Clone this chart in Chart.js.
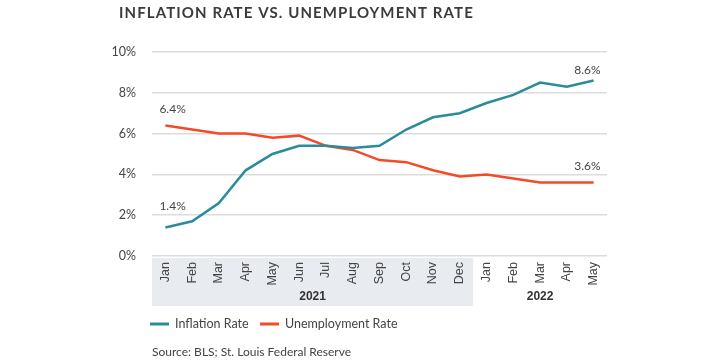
<!DOCTYPE html>
<html>
<head>
<meta charset="utf-8">
<script src="https://cdn.jsdelivr.net/npm/chart.js@4"></script>
<style>
  html, body { margin: 0; padding: 0; background: #fff; }
  #wrap { width: 720px; height: 360px; position: relative; }
</style>
</head>
<body>
<div id="wrap"><canvas id="grafico" width="720" height="360"></canvas></div>
<script>
// dados
const months = ["Jan","Feb","Mar","Apr","May","Jun","Jul","Aug","Sep","Oct","Nov","Dec","Jan","Feb","Mar","Apr","May"];
const years = ["2021", "2022"];
const yearStart = [0, 12]; // índice do primeiro mês de cada ano
const inflation = [1.4, 1.7, 2.6, 4.2, 5.0, 5.4, 5.4, 5.3, 5.4, 6.2, 6.8, 7.0, 7.5, 7.9, 8.5, 8.3, 8.6];
const unemployment = [6.4, 6.2, 6.0, 6.0, 5.8, 5.9, 5.4, 5.2, 4.7, 4.6, 4.2, 3.9, 4.0, 3.8, 3.6, 3.6, 3.6];
const yTicks = [0, 2, 4, 6, 8, 10];

const teal = "#2a8c9a";
const red = "#f24b28";
const textColor = "#444";

// plugin que desenha título, faixa dos anos, rótulos, legenda e fonte
const extras = {
  id: "extras",
  beforeDraw(chart) {
    const ctx = chart.ctx;
    const x = chart.scales.x;
    const area = chart.chartArea;
    const step = x.getPixelForValue(1) - x.getPixelForValue(0);
    // faixa cinza de 2021 (atrás dos rótulos)
    ctx.save();
    ctx.fillStyle = "#e8ebef";
    const left = x.getPixelForValue(yearStart[0]) - step / 2;
    const right = x.getPixelForValue(yearStart[1] - 1) + step / 2;
    ctx.fillRect(left, area.bottom + 2, right - left, 48);
    ctx.restore();
  },
  afterDraw(chart) {
    const ctx = chart.ctx;
    const x = chart.scales.x;
    const y = chart.scales.y;
    const area = chart.chartArea;
    ctx.save();

    // título
    ctx.fillStyle = "#3b3b3b";
    ctx.font = "bold 15px Lato";
    ctx.textBaseline = "alphabetic";
    ctx.textAlign = "left";
    ctx.letterSpacing = "1.1px";
    ctx.fillText("INFLATION RATE VS. UNEMPLOYMENT RATE", 119, 18);
    ctx.letterSpacing = "0px";

    // anos
    ctx.font = "bold 12px 'Liberation Sans'";
    ctx.fillStyle = "#333";
    ctx.textAlign = "center";
    ctx.textBaseline = "middle";
    for (let i = 0; i < years.length; i++) {
      const a = yearStart[i];
      const b = i + 1 < yearStart.length ? yearStart[i + 1] - 1 : months.length - 1;
      const cx = (x.getPixelForValue(a) + x.getPixelForValue(b)) / 2;
      ctx.fillText(years[i], cx, area.bottom + 41);
    }

    // rótulos de valores (primeiro e último ponto)
    ctx.font = "12px Lato";
    ctx.fillStyle = textColor;
    ctx.textBaseline = "alphabetic";
    const n = months.length - 1;
    ctx.textAlign = "left";
    ctx.fillText(inflation[0].toFixed(1) + "%", x.getPixelForValue(0) - 6, y.getPixelForValue(inflation[0]) - 17);
    ctx.fillText(unemployment[0].toFixed(1) + "%", x.getPixelForValue(0) - 6, y.getPixelForValue(unemployment[0]) - 12);
    ctx.textAlign = "right";
    ctx.fillText(inflation[n].toFixed(1) + "%", x.getPixelForValue(n) + 7, y.getPixelForValue(inflation[n]) - 7);
    ctx.fillText(unemployment[n].toFixed(1) + "%", x.getPixelForValue(n) + 7, y.getPixelForValue(unemployment[n]) - 13);

    // legenda
    ctx.textAlign = "left";
    ctx.textBaseline = "middle";
    ctx.font = "12.5px Lato";
    const legendY = 324;
    const items = [
      { label: "Inflation Rate", color: teal, x: 150 },
      { label: "Unemployment Rate", color: red, x: 260 }
    ];
    items.forEach(it => {
      ctx.fillStyle = it.color;
      ctx.fillRect(it.x, legendY - 1.5, 19, 3);
      ctx.fillStyle = textColor;
      ctx.fillText(it.label, it.x + 25, legendY);
    });

    // fonte
    ctx.font = "12px Lato";
    ctx.fillText("Source: BLS; St. Louis Federal Reserve", 152, 352);
    ctx.restore();
  }
};

const config = {
  type: "line",
  data: {
    labels: months,
    datasets: [
      { label: "Inflation Rate", data: inflation, borderColor: teal, backgroundColor: teal, borderWidth: 2.5, pointRadius: 0, tension: 0 },
      { label: "Unemployment Rate", data: unemployment, borderColor: red, backgroundColor: red, borderWidth: 2.5, pointRadius: 0, tension: 0 }
    ]
  },
  options: {
    responsive: false,
    animation: false,
    layout: { padding: { left: 102, right: 113, top: 52, bottom: 54 } },
    plugins: { legend: { display: false }, tooltip: { enabled: false } },
    scales: {
      x: {
        offset: true,
        grid: { display: false, drawTicks: false },
        border: { display: false },
        ticks: {
          minRotation: 90, maxRotation: 90, padding: 6,
          color: "#444", font: { family: "'Liberation Sans'", size: 12.5 }
        },
        afterFit(scale) { scale.height = 50; }
      },
      y: {
        min: 0, max: 10,
        afterBuildTicks(scale) { scale.ticks = yTicks.map(v => ({ value: v })); },
        grid: { color: "#dcdcdc", lineWidth: 1.5, drawTicks: false },
        border: { display: false },
        ticks: {
          padding: 16, color: "#444", font: { family: "Lato", size: 12.5 },
          callback: v => v + "%"
        },
        afterFit(scale) { scale.width = 50; }
      }
    }
  },
  plugins: [extras]
};

const grafico = new Chart(document.getElementById("grafico"), config);
</script>
</body>
</html>
